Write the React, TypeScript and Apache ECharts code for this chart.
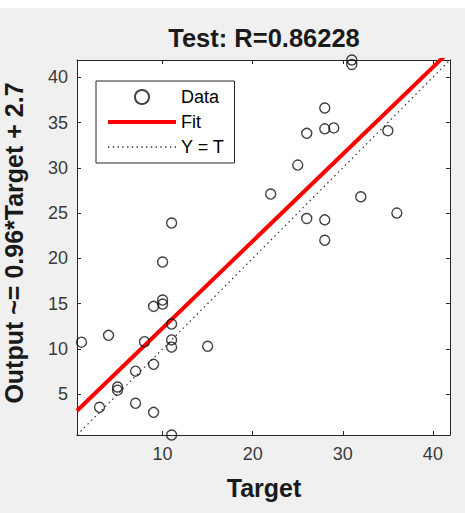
import React, { useEffect, useRef } from "react";
import * as echarts from "echarts";

// Data
const targets = [1, 3, 4, 5, 5, 7, 7, 8, 9, 9, 9, 10, 10, 10, 11, 11, 11, 11, 11, 15, 31, 31, 28, 26, 28, 29, 35, 25, 22, 32, 36, 26, 28, 28];
const outputs = [10.75, 3.56, 11.5, 5.8, 5.45, 4.0, 7.55, 10.8, 8.3, 3.0, 14.7, 15.4, 14.95, 19.6, 23.9, 12.75, 11.0, 10.2, 0.5, 10.3, 41.9, 41.4, 36.6, 33.8, 34.3, 34.4, 34.1, 30.3, 27.1, 26.8, 25.0, 24.4, 24.25, 22.0];
const FIT_SLOPE = 0.96;
const FIT_INTERCEPT = 2.7;
const xTicks = [10, 20, 30, 40];
const yTicks = [5, 10, 15, 20, 25, 30, 35, 40];
const TITLE = "Test: R=0.86228";
const X_LABEL = "Target";
const Y_LABEL = "Output ~= 0.96*Target + 2.7";

const AXIS_MIN = Math.min(...targets, ...outputs);
const AXIS_MAX = Math.max(...targets, ...outputs);

// legend icon shapes
const FIT_ICON = "path://M0,0H68V4H0Z";
function dottedIcon(): string {
  let d = "";
  for (let x = 0; x <= 66; x += 4.5) {
    d += `M${x},0H${x + 1.3}V1.3H${x}Z`;
  }
  return "path://" + d;
}

export default function App() {
  const ref = useRef<HTMLDivElement>(null);
  useEffect(() => {
    if (!ref.current) return;
    const chart = echarts.init(ref.current, undefined, { renderer: "svg" });
    const font = "'Liberation Sans', Arial, Helvetica, sans-serif";
    const axisColor = "#262626";
    const labelColor = "#3a3a3a";
    const baseAxis = {
      type: "value" as const,
      min: AXIS_MIN,
      max: AXIS_MAX,
      splitLine: { show: false },
      axisLine: { show: true, onZero: false, lineStyle: { color: axisColor, width: 1 } },
    };
    const option: any = {
      animation: false,
      backgroundColor: "#f0f0f0",
      textStyle: { fontFamily: font },
      grid: { left: 77, right: 15, top: 60, bottom: 78, show: true, backgroundColor: "#ffffff", borderWidth: 0 },
      legend: {
        orient: "vertical",
        left: 96,
        top: 81,
        padding: [7, 10, 7, 12],
        itemWidth: 68,
        itemHeight: 14,
        itemGap: 7,
        backgroundColor: "#ffffff",
        borderColor: "#262626",
        borderWidth: 1,
        borderRadius: 0,
        textStyle: { fontSize: 18, color: "#000", fontFamily: font },
        data: [
          { name: "Data" },
          { name: "Fit", icon: FIT_ICON, itemStyle: { color: "#ff0000", borderWidth: 0 } },
          { name: "Y = T", icon: dottedIcon(), itemStyle: { color: "#333", borderWidth: 0 } },
        ],
      },
      xAxis: [
        {
          ...baseAxis,
          position: "bottom",
          axisTick: { show: true, inside: true, length: 4, customValues: xTicks, lineStyle: { color: axisColor } },
          axisLabel: { show: true, customValues: xTicks, fontSize: 18, color: labelColor, margin: 10, fontFamily: font },
        },
        {
          ...baseAxis,
          position: "top",
          axisTick: { show: true, inside: true, length: 4, customValues: xTicks, lineStyle: { color: axisColor } },
          axisLabel: { show: false },
        },
      ],
      yAxis: [
        {
          ...baseAxis,
          position: "left",
          axisTick: { show: true, inside: true, length: 4, customValues: yTicks, lineStyle: { color: axisColor } },
          axisLabel: { show: true, customValues: yTicks, fontSize: 18, color: labelColor, margin: 9, fontFamily: font },
        },
        {
          ...baseAxis,
          position: "right",
          axisTick: { show: true, inside: true, length: 4, customValues: yTicks, lineStyle: { color: axisColor } },
          axisLabel: { show: false },
        },
      ],
      series: [
        {
          name: "Data",
          type: "scatter",
          xAxisIndex: 0,
          yAxisIndex: 0,
          symbol: "circle",
          symbolSize: 10,
          itemStyle: { color: "rgba(0,0,0,0)", borderColor: "#111", borderWidth: 1.4 },
          data: targets.map((t, i) => [t, outputs[i]]),
          z: 5,
        },
        {
          name: "Fit",
          type: "line",
          xAxisIndex: 0,
          yAxisIndex: 0,
          symbol: "none",
          clip: true,
          lineStyle: { color: "#ff0000", width: 4 },
          itemStyle: { color: "#ff0000" },
          data: [
            [AXIS_MIN, FIT_SLOPE * AXIS_MIN + FIT_INTERCEPT],
            [AXIS_MAX, FIT_SLOPE * AXIS_MAX + FIT_INTERCEPT],
          ],
          z: 4,
        },
        {
          name: "Y = T",
          type: "line",
          xAxisIndex: 0,
          yAxisIndex: 0,
          symbol: "none",
          clip: true,
          lineStyle: { color: "#333", width: 1.2, type: [1.5, 3.5] },
          itemStyle: { color: "#333" },
          data: [
            [AXIS_MIN, AXIS_MIN],
            [AXIS_MAX, AXIS_MAX],
          ],
          z: 3,
        },
      ],
      graphic: [
        { type: "rect", left: 0, top: 0, shape: { width: 465, height: 8 }, style: { fill: "#ffffff" }, silent: true },
        {
          type: "text",
          x: 264,
          y: 38,
          style: { text: TITLE, fontSize: 25.5, fontWeight: "bold", fill: "#1a1a1a", textAlign: "center", textVerticalAlign: "middle", fontFamily: font },
        },
        {
          type: "text",
          x: 264,
          y: 488,
          style: { text: X_LABEL, fontSize: 25, fontWeight: "bold", fill: "#1a1a1a", textAlign: "center", textVerticalAlign: "middle", fontFamily: font },
        },
        {
          type: "text",
          x: 14,
          y: 243,
          rotation: Math.PI / 2,
          style: { text: Y_LABEL, fontSize: 25, fontWeight: "bold", fill: "#1a1a1a", textAlign: "center", textVerticalAlign: "middle", fontFamily: font },
        },
      ],
    };
    chart.setOption(option);
    return () => chart.dispose();
  }, []);
  return <div ref={ref} style={{ position: "fixed", left: 0, top: 0, width: 465, height: 513 }} />;
}
